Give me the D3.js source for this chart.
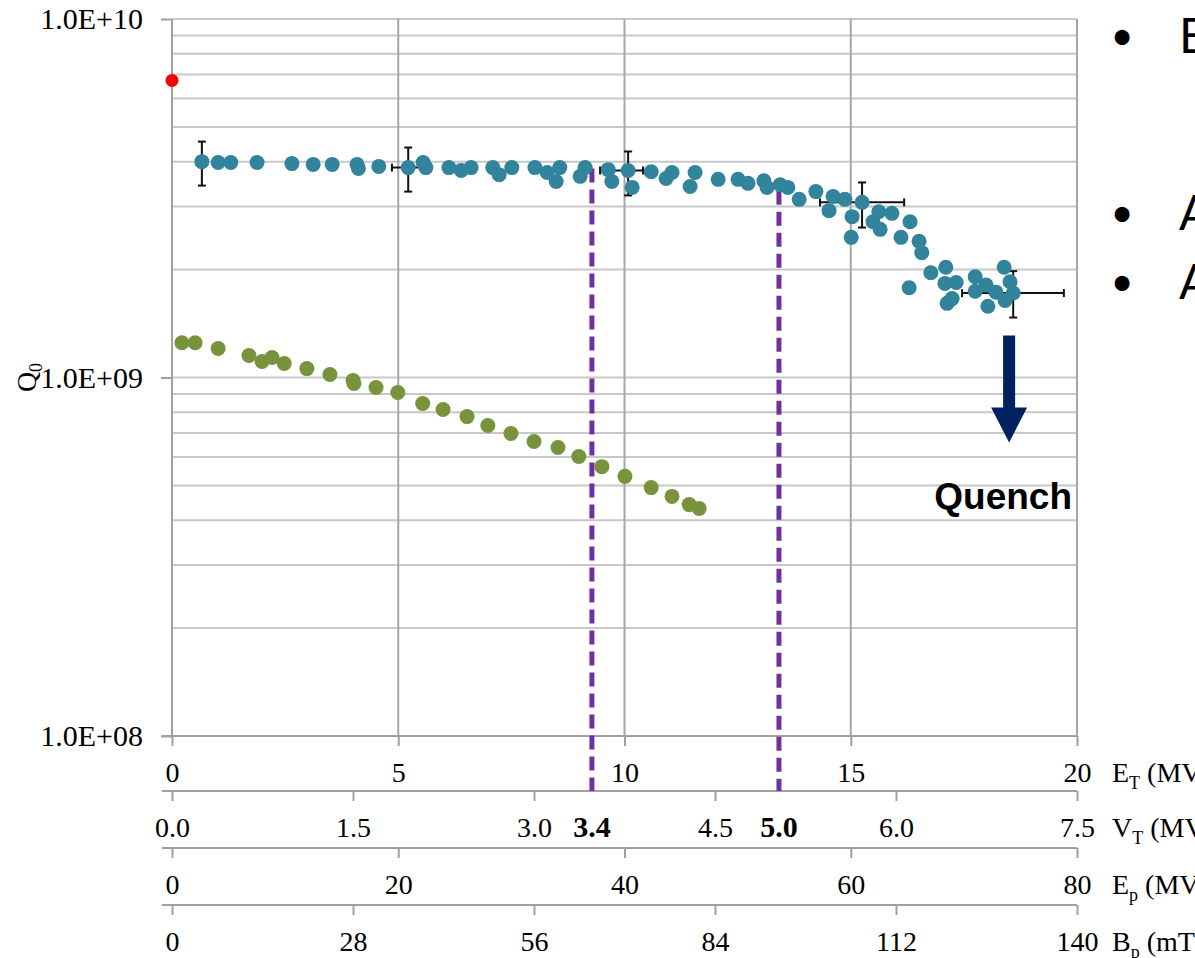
<!DOCTYPE html>
<html>
<head>
<meta charset="utf-8">
<script src="https://cdnjs.cloudflare.com/ajax/libs/d3/7.8.5/d3.min.js"></script>
<style>
  body { margin: 0; background: #fff; }
  svg { display: block; overflow: hidden; }
</style>
</head>
<body>
<svg id="chart" width="1195" height="958"></svg>
<script>
// teal series: E_T (MV/m) and Q0
var tealE = [0.66, 1.02, 1.30, 1.88, 2.65, 3.12, 3.54, 4.09, 4.12, 4.57,
  5.22, 5.55, 5.61, 6.12, 6.39, 6.61, 7.09, 7.23, 7.51, 8.02,
  8.29, 8.49, 8.57, 9.02, 9.13, 9.64, 9.72, 10.08, 10.17, 10.59,
  10.92, 11.05, 11.45, 11.56, 12.07, 12.51, 12.73, 13.08, 13.15, 13.44,
  13.61, 13.86, 14.23, 14.52, 14.61, 14.87, 15.01, 15.03, 15.25, 15.49,
  15.62, 15.65, 15.91, 16.11, 16.29, 16.31, 16.51, 16.57, 16.77, 17.08,
  17.10, 17.13, 17.24, 17.33, 17.75, 17.75, 17.99, 18.03, 18.21, 18.39,
  18.41, 18.52, 18.59];
var tealQ = [4.00e9, 3.98e9, 3.98e9, 3.98e9, 3.95e9, 3.93e9, 3.93e9, 3.93e9, 3.83e9, 3.88e9,
  3.85e9, 3.98e9, 3.85e9, 3.85e9, 3.78e9, 3.85e9, 3.85e9, 3.68e9, 3.85e9, 3.85e9,
  3.73e9, 3.52e9, 3.85e9, 3.64e9, 3.85e9, 3.80e9, 3.52e9, 3.78e9, 3.39e9, 3.75e9,
  3.59e9, 3.73e9, 3.41e9, 3.73e9, 3.57e9, 3.57e9, 3.48e9, 3.54e9, 3.39e9, 3.45e9,
  3.39e9, 3.14e9, 3.30e9, 2.92e9, 3.20e9, 3.14e9, 2.46e9, 2.81e9, 3.08e9, 2.72e9,
  2.90e9, 2.59e9, 2.87e9, 2.46e9, 1.78e9, 2.72e9, 2.40e9, 2.23e9, 1.96e9, 1.83e9,
  2.03e9, 1.61e9, 1.66e9, 1.84e9, 1.91e9, 1.74e9, 1.81e9, 1.58e9, 1.73e9, 2.03e9,
  1.64e9, 1.85e9, 1.72e9];

// green series
var greenE = [0.22, 0.51, 1.02, 1.70, 1.99, 2.21, 2.48, 2.98, 3.49, 4.00,
  4.02, 4.51, 4.99, 5.54, 5.99, 6.52, 6.98, 7.49, 8.00, 8.53,
  8.99, 9.50, 10.01, 10.59, 11.05, 11.43, 11.65];
var greenQ = [1.25e9, 1.25e9, 1.205e9, 1.152e9, 1.108e9, 1.137e9, 1.094e9, 1.059e9, 1.019e9, 0.981e9,
  0.962e9, 0.938e9, 0.908e9, 0.846e9, 0.814e9, 0.778e9, 0.735e9, 0.698e9, 0.663e9, 0.638e9,
  0.602e9, 0.564e9, 0.530e9, 0.493e9, 0.466e9, 0.442e9, 0.431e9];

// single red point
var redE = [0];
var redQ = [6.74e9];

// error bars on the teal series
var errE = [0.66, 5.22, 10.08, 15.25, 18.59];
var errQ = [4.00e9, 3.85e9, 3.78e9, 3.08e9, 1.72e9];
var errQlo = [3.43e9, 3.30e9, 3.22e9, 2.62e9, 1.47e9];
var errQhi = [4.55e9, 4.38e9, 4.27e9, 3.50e9, 1.98e9];
var errElo = [0.66, 4.86, 9.46, 14.32, 17.46];
var errEhi = [0.66, 5.57, 10.41, 16.18, 19.71];

// axis ticks
var yTicks = [1e8, 1e9, 1e10];
var etTicks = [0, 5, 10, 15, 20];
var vtTicks = [0, 1.5, 3.0, 4.5, 6.0, 7.5];
var epTicks = [0, 20, 40, 60, 80];
var bpTicks = [0, 28, 56, 84, 112, 140];
var axisTitles = [["E", "T", " (MV/m)"], ["V", "T", " (MV)"], ["E", "p", " (MV/m)"], ["B", "p", " (mT)"]];

// dashed markers on the V_T axis
var markVT = [3.48, 5.03];
var markLabel = ["3.4", "5.0"];
var markTopQ = [3.83e9, 3.32e9];

// quench arrow
var arrowE = 18.5;
var arrowQtop = 1.31e9;
var arrowQhead = 0.825e9;
var arrowQtip = 0.659e9;

var bulletText = ["E", "A", "A"];

var serif = '"Liberation Serif", "Times New Roman", serif';
var svg = d3.select('#chart');

var x = d3.scaleLinear().domain([0, 20]).range([172, 1077]);
var y = d3.scaleLog().domain([1e8, 1e10]).range([736, 19]);
var vt = d3.scaleLinear().domain([0, 7.5]).range(x.range());
var ep = d3.scaleLinear().domain([0, 80]).range(x.range());
var bp = d3.scaleLinear().domain([0, 140]).range(x.range());

// horizontal grid (every log tick)
svg.append('g').selectAll('line').data(y.ticks()).enter().append('line')
  .attr('x1', x(0)).attr('x2', x(20))
  .attr('y1', function(d){ return y(d); }).attr('y2', function(d){ return y(d); })
  .attr('stroke', '#c8c8c8').attr('stroke-width', 2);

// vertical grid
svg.append('g').selectAll('line').data(etTicks).enter().append('line')
  .attr('x1', function(d){ return x(d); }).attr('x2', function(d){ return x(d); })
  .attr('y1', y(1e10)).attr('y2', y(1e8))
  .attr('stroke', function(d){ return d === 0 ? '#a0a0a0' : '#a6a6a6'; })
  .attr('stroke-width', 2);

// y axis
var yAxis = svg.append('g').attr('transform', 'translate(' + x(0) + ',0)')
  .call(d3.axisLeft(y).tickValues(yTicks).tickSize(11).tickPadding(18)
    .tickFormat(function(d){
      var p = Math.round(Math.log10(d));
      return '1.0E+' + (p < 10 ? '0' : '') + p;
    }));
yAxis.select('.domain').remove();
yAxis.selectAll('line').attr('stroke', '#a0a0a0').attr('stroke-width', 2);
yAxis.selectAll('text').attr('font-family', serif).attr('font-size', 30).attr('fill', '#000');

// y label Q0
svg.append('text')
  .attr('transform', 'translate(36,' + y(1e9) + ') rotate(-90)')
  .attr('text-anchor', 'middle')
  .attr('font-family', serif).attr('font-size', 28)
  .call(function(t){
    t.append('tspan').text('Q');
    t.append('tspan').attr('font-size', 18).attr('dy', 6).text('0');
  });

// stacked bottom axes
var bottomAxes = [
  { scale: x, ticks: etTicks, fmt: d3.format('d'), y: 736 },
  { scale: vt, ticks: vtTicks, fmt: d3.format('.1f'), y: 791 },
  { scale: ep, ticks: epTicks, fmt: d3.format('d'), y: 848 },
  { scale: bp, ticks: bpTicks, fmt: d3.format('d'), y: 905 }
];
bottomAxes.forEach(function(a, i){
  svg.append('line')
    .attr('x1', x(0) - 10).attr('x2', x(20))
    .attr('y1', a.y).attr('y2', a.y)
    .attr('stroke', '#a0a0a0').attr('stroke-width', 2);
  var g = svg.append('g').attr('transform', 'translate(0,' + a.y + ')')
    .call(d3.axisBottom(a.scale).tickValues(a.ticks).tickSize(10).tickFormat(a.fmt));
  g.select('.domain').remove();
  g.selectAll('line').attr('stroke', '#a0a0a0').attr('stroke-width', 2);
  g.selectAll('text').attr('font-family', serif).attr('font-size', 28)
    .attr('fill', '#000').attr('y', 46).attr('dy', 0);
  var t = axisTitles[i];
  svg.append('text').attr('x', 1112).attr('y', a.y + 46)
    .attr('font-family', serif).attr('font-size', 28).attr('fill', '#000')
    .call(function(tx){
      tx.append('tspan').text(t[0]);
      tx.append('tspan').attr('font-size', 18).attr('dy', 7).text(t[1]);
      tx.append('tspan').attr('dy', -7).text(t[2]);
    });
});

// purple dashed markers
svg.append('g').selectAll('line').data(markVT).enter().append('line')
  .attr('x1', function(d){ return vt(d); }).attr('x2', function(d){ return vt(d); })
  .attr('y1', function(d, i){ return y(markTopQ[i]); })
  .attr('y2', 791)
  .attr('stroke', '#7030a0').attr('stroke-width', 5)
  .attr('stroke-dasharray', '14,7');
svg.append('g').selectAll('text').data(markVT).enter().append('text')
  .attr('x', function(d){ return vt(d); }).attr('y', 791 + 46)
  .attr('text-anchor', 'middle')
  .attr('font-family', serif).attr('font-size', 30).attr('font-weight', 'bold')
  .text(function(d, i){ return markLabel[i]; });

// error bars
var eb = svg.append('g').attr('stroke', '#111').attr('stroke-width', 2);
errE.forEach(function(e, i){
  var cx = x(e), cy = y(errQ[i]);
  eb.append('line').attr('x1', cx).attr('x2', cx).attr('y1', y(errQhi[i])).attr('y2', y(errQlo[i]));
  eb.append('line').attr('x1', cx - 4).attr('x2', cx + 4).attr('y1', y(errQhi[i])).attr('y2', y(errQhi[i]));
  eb.append('line').attr('x1', cx - 4).attr('x2', cx + 4).attr('y1', y(errQlo[i])).attr('y2', y(errQlo[i]));
  if (errEhi[i] > errElo[i]) {
    eb.append('line').attr('x1', x(errElo[i])).attr('x2', x(errEhi[i])).attr('y1', cy).attr('y2', cy);
    eb.append('line').attr('x1', x(errElo[i])).attr('x2', x(errElo[i])).attr('y1', cy - 4).attr('y2', cy + 4);
    eb.append('line').attr('x1', x(errEhi[i])).attr('x2', x(errEhi[i])).attr('y1', cy - 4).attr('y2', cy + 4);
  }
});

// scatter series
var drawDots = function(xs, ys, color, r){
  svg.append('g').selectAll('circle').data(xs).enter().append('circle')
    .attr('cx', function(d){ return x(d); })
    .attr('cy', function(d, i){ return y(ys[i]); })
    .attr('r', r).attr('fill', color);
};
drawDots(greenE, greenQ, '#77933c', 7.5);
drawDots(tealE, tealQ, '#31849b', 7.5);
drawDots(redE, redQ, '#ff0000', 6.5);

// quench arrow
var ax = x(arrowE);
var arrowPath = d3.path();
arrowPath.moveTo(ax - 6, y(arrowQtop));
arrowPath.lineTo(ax + 6, y(arrowQtop));
arrowPath.lineTo(ax + 6, y(arrowQhead));
arrowPath.lineTo(ax + 18, y(arrowQhead));
arrowPath.lineTo(ax, y(arrowQtip));
arrowPath.lineTo(ax - 18, y(arrowQhead));
arrowPath.lineTo(ax - 6, y(arrowQhead));
arrowPath.closePath();
svg.append('path').attr('d', arrowPath.toString()).attr('fill', '#002060');

svg.append('text')
  .attr('x', x(20) - 5).attr('y', 509)
  .attr('text-anchor', 'end')
  .attr('font-family', '"Liberation Sans", Arial, sans-serif')
  .attr('font-size', 37).attr('font-weight', 'bold').attr('fill', '#000')
  .text('Quench');

// slide bullets cut off at the right edge
var bulletY = [50, 227, 296];
bulletText.forEach(function(b, i){
  svg.append('text').attr('x', 1122).attr('y', bulletY[i])
    .attr('text-anchor', 'middle')
    .attr('font-family', 'Lato, "Open Sans", sans-serif').attr('font-size', 40)
    .text('\u2022');
  svg.append('text').attr('x', 1179).attr('y', bulletY[i] + 3)
    .attr('font-family', 'Lato, "Open Sans", sans-serif').attr('font-size', 48)
    .text(b);
});
</script>
</body>
</html>
